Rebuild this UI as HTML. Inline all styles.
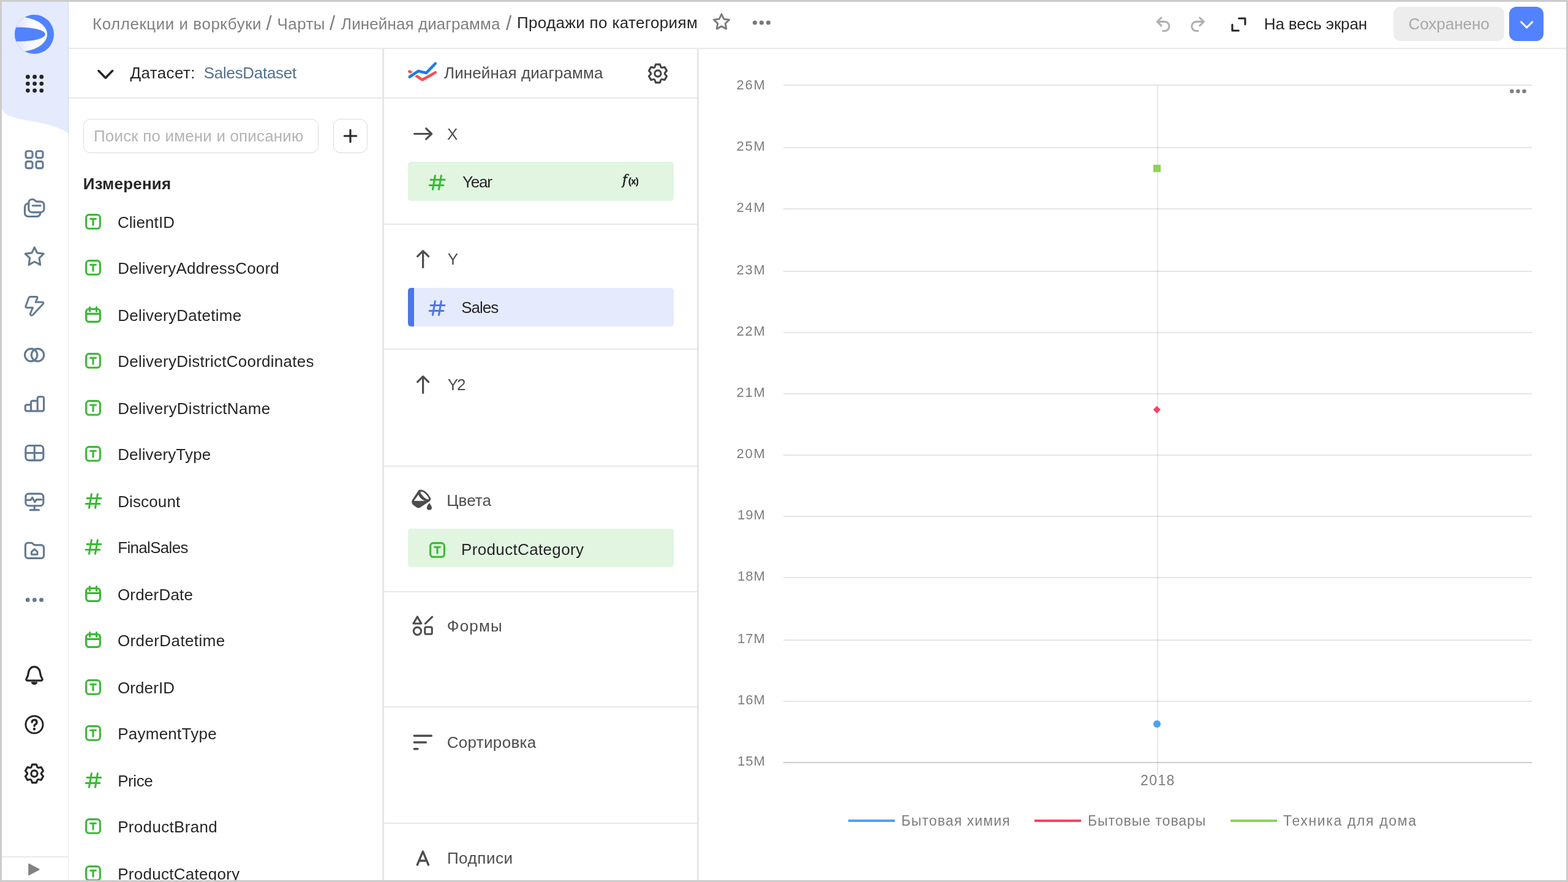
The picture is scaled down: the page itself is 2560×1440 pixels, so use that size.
<!DOCTYPE html>
<html lang="ru">
<head>
<meta charset="utf-8">
<title>Продажи по категориям</title>
<style>
*{box-sizing:border-box;margin:0;padding:0}
html,body{width:2560px;height:1440px;overflow:hidden;background:#fff}
#root{position:absolute;left:0;top:0;width:2560px;height:1440px;overflow:hidden;background:#fff}
body{position:relative;font-family:"Liberation Sans",sans-serif;font-size:26px;color:#262626}
.a{position:absolute}
.t{position:absolute;white-space:nowrap;line-height:36px;height:36px}
.hl{position:absolute;height:2px;background:#e9e9e9}
.vl{position:absolute;width:2px;background:#e9e9e9}
svg{position:absolute;overflow:visible}
.frame{position:absolute;left:0;top:0;width:2560px;height:1440px;border:3px solid #ccc;pointer-events:none;z-index:50}
.sec{color:#4d4d4d}
.g{color:#808080}
.ch{color:#7d7d7d;font-size:22px}
</style>
</head>
<body>
<div id="root">
<svg style="left:0;top:0" width="112" height="230" viewBox="0 0 112 230"><path d="M3 3H112V218.5C100 210 88 205.5 70 201.5C50 197.5 35 195 22 191.5C10 188 3 183 3 173Z" fill="#e5ebfd"/></svg>
<div class="vl" style="left:110.5px;top:3px;height:1434px;background:rgba(0,0,0,0.09);width:1.5px;"></div>
<div class="hl" style="left:3px;top:1398px;width:108px;background:#e9e9e9;height:2px;"></div>
<div class="hl" style="left:112px;top:78px;width:2445px;background:#e8e8e8;height:2px;"></div>
<div class="vl" style="left:624px;top:80px;height:1357px;background:#e6e6e6;width:3px;"></div>
<div class="vl" style="left:1137.75px;top:80px;height:1357px;background:#e6e6e6;width:3px;"></div>
<div class="hl" style="left:112px;top:159px;width:512px;background:#e8e8e8;height:2px;"></div>
<div class="hl" style="left:627px;top:159px;width:511px;background:#e8e8e8;height:2px;"></div>
<div class="hl" style="left:627px;top:365px;width:511px;background:#e8e8e8;height:2px;"></div>
<div class="hl" style="left:627px;top:569px;width:511px;background:#e8e8e8;height:2px;"></div>
<div class="hl" style="left:627px;top:760px;width:511px;background:#e8e8e8;height:2px;"></div>
<div class="hl" style="left:627px;top:965px;width:511px;background:#e8e8e8;height:2px;"></div>
<div class="hl" style="left:627px;top:1153px;width:511px;background:#e8e8e8;height:2px;"></div>
<div class="hl" style="left:627px;top:1343px;width:511px;background:#e8e8e8;height:2px;"></div>
<div class="t g" style="left:151px;top:20.75px;letter-spacing:0.52px;">Коллекции и воркбуки</div>
<div class="t g" style="left:434.5px;top:20.3px;font-size:33px;">/</div>
<div class="t g" style="left:452.5px;top:20.75px;letter-spacing:0.42px;">Чарты</div>
<div class="t g" style="left:538px;top:20.3px;font-size:33px;">/</div>
<div class="t g" style="left:557px;top:20.75px;letter-spacing:0.1px;">Линейная диаграмма</div>
<div class="t g" style="left:826px;top:20.3px;font-size:33px;">/</div>
<div class="t " style="left:844px;top:18.6px;letter-spacing:0.35px;">Продажи по категориям</div>
<div class="t " style="left:2063.75px;top:21px;letter-spacing:-0.15px;">На весь экран</div>
<div class="a" style="left:2275.4px;top:11.25px;width:180.35px;height:55.75px;border-radius:12px;background:#ededed"></div>
<div class="t " style="left:2299.5px;top:21px;letter-spacing:-0.04px;color:#a8a8a8;">Сохранено</div>
<div class="a" style="left:2464.25px;top:11.25px;width:55.75px;height:55.75px;border-radius:12px;background:#5282ff"></div>
<svg style="left:2480px;top:32px" width="26" height="18" viewBox="0 0 26 18" fill="none"><path d="M3.6 3.9L12.65 13L21.7 3.9" stroke="#fff" stroke-width="3.1" stroke-linecap="round" stroke-linejoin="round"/></svg>
<svg style="left:1161.5px;top:20px;" width="32" height="32" viewBox="0 0 16 16" fill="none"><path d="M8 1.55L9.93 5.55L14.3 6.15L11.12 9.2L11.9 13.55L8 11.45L4.1 13.55L4.88 9.2L1.7 6.15L6.07 5.55Z" stroke="#7a7a7a" stroke-width="1.45" stroke-linejoin="round"/></svg>
<svg style="left:1228px;top:32px" width="32" height="10" viewBox="0 0 32 10"><circle cx="4.4" cy="5" r="3.6" fill="#7a7a7a"/><circle cx="15.4" cy="5" r="3.6" fill="#7a7a7a"/><circle cx="26.4" cy="5" r="3.6" fill="#7a7a7a"/></svg>
<svg style="left:1883px;top:23.5px" width="32" height="32" viewBox="0 0 32 32" fill="none"><path d="M12.9 5L6.3 11.4L12.9 17.8M6.6 11.4H18.5A7.55 7.55 0 0 1 18.5 26.5H15.8" stroke="#b0b0b0" stroke-width="3.1" stroke-linecap="round" stroke-linejoin="round"/></svg>
<svg style="left:1939px;top:23.5px" width="32" height="32" viewBox="0 0 32 32" fill="none"><path d="M19.8 5L26.4 11.4L19.8 17.8M26.1 11.4H14.2A7.55 7.55 0 0 0 14.2 26.5H16.9" stroke="#b0b0b0" stroke-width="3.1" stroke-linecap="round" stroke-linejoin="round"/></svg>
<svg style="left:2008px;top:26px" width="28" height="28" viewBox="0 0 28 28" fill="none"><path d="M14.75 4H24.9V13.75M3.9 14.25V24H14.25" stroke="#262626" stroke-width="3.1" stroke-linecap="round" stroke-linejoin="round"/></svg>
<svg style="left:24px;top:24px" width="64" height="64" viewBox="0 0 64 64">
<defs><linearGradient id="lg" gradientUnits="userSpaceOnUse" x1="0" y1="0" x2="34" y2="0"><stop offset="0" stop-color="#dbe4ff"/><stop offset="1" stop-color="#ffffff"/></linearGradient>
<clipPath id="cp"><circle cx="32" cy="32" r="32"/></clipPath></defs>
<circle cx="32" cy="32" r="32" fill="#5282ff"/>
<g clip-path="url(#cp)"><ellipse cx="6" cy="32" rx="47" ry="28.5" fill="url(#lg)"/><ellipse cx="8" cy="32" rx="42" ry="11.5" fill="#5282ff"/></g>
</svg>
<svg style="left:41.7px;top:121.9px" width="29.2" height="29.2" viewBox="0 0 29.2 29.2"><circle cx="3.4" cy="3.4" r="3.4" fill="#262626"/><circle cx="3.4" cy="14.6" r="3.4" fill="#262626"/><circle cx="3.4" cy="25.8" r="3.4" fill="#262626"/><circle cx="14.6" cy="3.4" r="3.4" fill="#262626"/><circle cx="14.6" cy="14.6" r="3.4" fill="#262626"/><circle cx="14.6" cy="25.8" r="3.4" fill="#262626"/><circle cx="25.8" cy="3.4" r="3.4" fill="#262626"/><circle cx="25.8" cy="14.6" r="3.4" fill="#262626"/><circle cx="25.8" cy="25.8" r="3.4" fill="#262626"/></svg>
<svg style="left:38px;top:243px;" width="36" height="36" viewBox="0 0 36 36" fill="none"><g stroke="#637a93" stroke-width="3.15" stroke-linecap="round" stroke-linejoin="round"><rect x="4.1" y="3.7" width="10.9" height="11" rx="2.8"/><rect x="21" y="3.7" width="11" height="11" rx="2.8"/><rect x="4.1" y="20.6" width="10.9" height="11" rx="2.8"/><rect x="21" y="20.6" width="11" height="11" rx="2.8"/></g></svg>
<svg style="left:38px;top:322px;" width="36" height="36" viewBox="0 0 36 36" fill="none"><g stroke="#637a93" stroke-width="3.15" stroke-linecap="round" stroke-linejoin="round"><path d="M8.8 9A5.5 5.5 0 0 1 14.3 3.5H15.6C17.6 3.5 18.5 4.5 19.5 5.6C20.4 6.6 21.2 7.1 22.6 7.1H28.4A5.5 5.5 0 0 1 33.9 12.6V19.1A5.5 5.5 0 0 1 28.4 24.6H14.3A5.5 5.5 0 0 1 8.8 19.1Z"/><path d="M15.3 13.7H28.2"/><path d="M8.4 10.4H8A5.5 5.5 0 0 0 2.5 15.9V26A5.5 5.5 0 0 0 8 31.5H22.3A5.5 5.5 0 0 0 27.8 26V25.2"/></g></svg>
<svg style="left:38px;top:401px;" width="36" height="36" viewBox="0 0 36 36" fill="none"><g stroke="#637a93" stroke-width="3.1" stroke-linecap="round" stroke-linejoin="round"><path d="M18.3 2.8L22.7 11.9L33.3 13.3L26.1 20.3L27.7 31.4L18.3 26.25L9.1 31.4L10.65 20.3L3.3 13.3L13.9 11.9Z"/></g></svg>
<svg style="left:38px;top:481px;" width="36" height="36" viewBox="0 0 36 36" fill="none"><g stroke="#637a93" stroke-width="3" stroke-linecap="round" stroke-linejoin="round"><path d="M11.8 3.5H21.3Q23.7 3.5 22.9 5.8L20.2 12.25H30.4Q33.9 12.25 32.3 15.3L15.6 33Q13.8 34.7 12.2 33.4Q10.9 32.4 11.6 30.6L15.5 21.3H6.2Q3.1 21.3 4.1 18.5L8.9 5.6Q9.7 3.5 11.8 3.5Z"/></g></svg>
<svg style="left:38px;top:561px;" width="36" height="36" viewBox="0 0 36 36" fill="none"><g stroke="#637a93" stroke-width="3.15" stroke-linecap="round" stroke-linejoin="round"><circle cx="12.7" cy="18.6" r="10.2"/><circle cx="23.5" cy="18.6" r="10.2"/></g></svg>
<svg style="left:38px;top:641px;" width="36" height="36" viewBox="0 0 36 36" fill="none"><g stroke="#637a93" stroke-width="3.15" stroke-linecap="round" stroke-linejoin="round"><path d="M3.2 22.4A2.6 2.6 0 0 1 5.8 19.8H12.6V30.1H5.8A2.6 2.6 0 0 1 3.2 27.5ZM12.6 16A2.6 2.6 0 0 1 15.2 13.4H23.2V30.1H12.6ZM23.2 9.3A2.6 2.6 0 0 1 25.8 6.7H31A2.6 2.6 0 0 1 33.6 9.3V27.5A2.6 2.6 0 0 1 31 30.1H23.2Z"/></g></svg>
<svg style="left:38px;top:721px;" width="36" height="36" viewBox="0 0 36 36" fill="none"><g stroke="#637a93" stroke-width="3.15" stroke-linecap="round" stroke-linejoin="round"><rect x="3.9" y="6.5" width="28.9" height="24.1" rx="5.4"/><path d="M18.3 6.5V30.6M3.9 18.5H32.8"/></g></svg>
<svg style="left:38px;top:801px;" width="36" height="36" viewBox="0 0 36 36" fill="none"><g stroke="#637a93" stroke-width="3.15" stroke-linecap="round" stroke-linejoin="round"><rect x="3.9" y="5.1" width="28.9" height="19.6" rx="5"/><path d="M18.3 24.7V31.4M11.2 31.6H25.5M6.3 15.3H12.2L14.7 11.2L18.9 18.6L21.6 14.6H29.5"/></g></svg>
<svg style="left:38px;top:881px;" width="36" height="36" viewBox="0 0 36 36" fill="none"><g stroke="#637a93" stroke-width="3.15" stroke-linecap="round" stroke-linejoin="round"><path d="M3.4 9.6A4.4 4.4 0 0 1 7.8 5.2H12.4C14.2 5.2 15 6 15.9 7.1C16.8 8.2 17.6 8.9 19.2 8.9H29.2A4.4 4.4 0 0 1 33.6 13.3V26A4.4 4.4 0 0 1 29.2 30.4H7.8A4.4 4.4 0 0 1 3.4 26Z"/><path d="M13.5 24.2V19.8L18.3 15.6L23.1 19.8V24.2Z" stroke-width="2.9"/></g></svg>
<svg style="left:38px;top:970px" width="36" height="20" viewBox="0 0 36 20"><circle cx="7.2" cy="9.4" r="3.4" fill="#637a93"/><circle cx="18.4" cy="9.4" r="3.4" fill="#637a93"/><circle cx="29.6" cy="9.4" r="3.4" fill="#637a93"/></svg>
<svg style="left:38px;top:1085px;" width="36" height="36" viewBox="0 0 16 16" fill="none"><g stroke="#262626" stroke-width="1.45" stroke-linecap="round" stroke-linejoin="round"><path d="M3 11.6C2.3 11.6 1.9 10.85 2.3 10.25C3.3 8.8 3.6 7.6 3.8 5.8C4.05 3.4 5.7 1.65 8 1.65C10.3 1.65 11.95 3.4 12.2 5.8C12.4 7.6 12.7 8.8 13.7 10.25C14.1 10.85 13.7 11.6 13 11.6Z"/><path d="M6.1 12.9A2 2 0 0 0 9.9 12.9Z" fill="#262626" stroke-width="0.8"/></g></svg>
<svg style="left:38px;top:1165px;" width="36" height="36" viewBox="0 0 16 16" fill="none"><g stroke="#262626" stroke-width="1.3" stroke-linecap="round" stroke-linejoin="round"><circle cx="8" cy="8" r="6.25"/><path d="M6.3 6.3A1.75 1.75 0 1 1 8.6 8C8.2 8.2 8 8.5 8 9" stroke-width="1.5"/><circle cx="8" cy="11.2" r="0.6" fill="#262626" stroke-width="0.8"/></g></svg>
<svg style="left:36.1px;top:1243.4px" width="40" height="40" viewBox="0 0 40 40" fill="none"><path d="M16.62 5.13L23.38 5.13L24.52 8.24Q25.05 11.25 27.93 10.21L31.19 9.64L34.57 15.49L32.44 18.03Q30.10 20.00 32.44 21.97L34.57 24.51L31.19 30.36L27.93 29.79Q25.05 28.75 24.52 31.76L23.38 34.87L16.62 34.87L15.48 31.76Q14.95 28.75 12.07 29.79L8.81 30.36L5.43 24.51L7.56 21.97Q9.90 20.00 7.56 18.03L5.43 15.49L8.81 9.64L12.07 10.21Q14.95 11.25 15.48 8.24Z" stroke="#262626" stroke-width="3.1" stroke-linejoin="round"/><circle cx="20" cy="20" r="5.1" stroke="#262626" stroke-width="3.1"/></svg>
<svg style="left:46px;top:1409px" width="20" height="22" viewBox="0 0 20 22"><path d="M1 1.5L18 10.5L1 19.5Z" fill="#828282" stroke="#828282" stroke-width="1.5" stroke-linejoin="round"/></svg>
<svg style="left:156px;top:108px" width="32" height="26" viewBox="0 0 32 26" fill="none"><path d="M5 7.6L16.4 19.2L27.6 7.6" stroke="#262626" stroke-width="3.6" stroke-linecap="round" stroke-linejoin="round"/></svg>
<div class="t " style="left:212.5px;top:100.65px;letter-spacing:0.38px;">Датасет:</div>
<div class="t " style="left:332.75px;top:100.65px;letter-spacing:-0.29px;color:#54708f;">SalesDataset</div>
<div class="a" style="left:136.25px;top:194.25px;width:383.75px;height:55.5px;border:1.5px solid #dadada;border-radius:12px"></div>
<div class="t " style="left:153px;top:203.8px;letter-spacing:0.16px;color:#b5b5b5;">Поиск по имени и описанию</div>
<div class="a" style="left:544.25px;top:194.25px;width:55.75px;height:55.5px;border:1.5px solid #dadada;border-radius:12px"></div>
<svg style="left:558px;top:208px" width="28" height="28" viewBox="0 0 28 28" fill="none"><path d="M14 4.3V23.7M4.3 14H23.7" stroke="#262626" stroke-width="3.1" stroke-linecap="round"/></svg>
<div class="t " style="left:135.75px;top:282px;letter-spacing:0.2px;font-weight:700;">Измерения</div>
<svg style="left:139px;top:349px" width="26" height="26" viewBox="0 0 26 26" fill="none"><g stroke="#3ab935" stroke-linecap="round" stroke-linejoin="round"><rect x="1.6" y="1.6" width="22.8" height="22.6" rx="4.8" stroke-width="3.1"/><path d="M8.6 8.2H17.4M13 8.2V18.1" stroke-width="3.1"/></g></svg>
<div class="t " style="left:191.9px;top:345px;letter-spacing:0.09px;">ClientID</div>
<svg style="left:139px;top:424.4px" width="26" height="26" viewBox="0 0 26 26" fill="none"><g stroke="#3ab935" stroke-linecap="round" stroke-linejoin="round"><rect x="1.6" y="1.6" width="22.8" height="22.6" rx="4.8" stroke-width="3.1"/><path d="M8.6 8.2H17.4M13 8.2V18.1" stroke-width="3.1"/></g></svg>
<div class="t " style="left:192.2px;top:420.4px;letter-spacing:0.18px;">DeliveryAddressCoord</div>
<svg style="left:139px;top:499.5px" width="26" height="28" viewBox="0 0 26 28" fill="none"><g stroke="#3ab935" stroke-linecap="round" stroke-linejoin="round" stroke-width="3.2"><rect x="1.6" y="4.5" width="22.8" height="20.9" rx="4.8"/><path d="M1.6 12.4H24.4M7.5 1.6V8.2M18.5 1.6V8.2"/></g></svg>
<div class="t " style="left:192.2px;top:497px;letter-spacing:0.27px;">DeliveryDatetime</div>
<svg style="left:139px;top:576.4px" width="26" height="26" viewBox="0 0 26 26" fill="none"><g stroke="#3ab935" stroke-linecap="round" stroke-linejoin="round"><rect x="1.6" y="1.6" width="22.8" height="22.6" rx="4.8" stroke-width="3.1"/><path d="M8.6 8.2H17.4M13 8.2V18.1" stroke-width="3.1"/></g></svg>
<div class="t " style="left:192.2px;top:572.4px;letter-spacing:0.26px;">DeliveryDistrictCoordinates</div>
<svg style="left:139px;top:653px" width="26" height="26" viewBox="0 0 26 26" fill="none"><g stroke="#3ab935" stroke-linecap="round" stroke-linejoin="round"><rect x="1.6" y="1.6" width="22.8" height="22.6" rx="4.8" stroke-width="3.1"/><path d="M8.6 8.2H17.4M13 8.2V18.1" stroke-width="3.1"/></g></svg>
<div class="t " style="left:192.2px;top:649px;letter-spacing:0.33px;">DeliveryDistrictName</div>
<svg style="left:139px;top:728.4px" width="26" height="26" viewBox="0 0 26 26" fill="none"><g stroke="#3ab935" stroke-linecap="round" stroke-linejoin="round"><rect x="1.6" y="1.6" width="22.8" height="22.6" rx="4.8" stroke-width="3.1"/><path d="M8.6 8.2H17.4M13 8.2V18.1" stroke-width="3.1"/></g></svg>
<div class="t " style="left:192.2px;top:724.4px;letter-spacing:0.16px;">DeliveryType</div>
<svg style="left:138.5px;top:805px" width="28" height="26" viewBox="0 0 28 26" fill="none"><g stroke="#3ab935" stroke-linecap="round" stroke-linejoin="round" stroke-width="3.1"><path d="M10.4 1.7L6.5 24.3M20.4 1.7L16.5 24.3M3.1 8.5H25.9M1.2 17.55H23.9"/></g></svg>
<div class="t " style="left:192.2px;top:801px;letter-spacing:0.12px;">Discount</div>
<svg style="left:138.5px;top:880.4px" width="28" height="26" viewBox="0 0 28 26" fill="none"><g stroke="#3ab935" stroke-linecap="round" stroke-linejoin="round" stroke-width="3.1"><path d="M10.4 1.7L6.5 24.3M20.4 1.7L16.5 24.3M3.1 8.5H25.9M1.2 17.55H23.9"/></g></svg>
<div class="t " style="left:192.2px;top:876.4px;letter-spacing:-0.68px;">FinalSales</div>
<svg style="left:139px;top:955.5px" width="26" height="28" viewBox="0 0 26 28" fill="none"><g stroke="#3ab935" stroke-linecap="round" stroke-linejoin="round" stroke-width="3.2"><rect x="1.6" y="4.5" width="22.8" height="20.9" rx="4.8"/><path d="M1.6 12.4H24.4M7.5 1.6V8.2M18.5 1.6V8.2"/></g></svg>
<div class="t " style="left:191.9px;top:953px;letter-spacing:0.21px;">OrderDate</div>
<svg style="left:139px;top:1030.9px" width="26" height="28" viewBox="0 0 26 28" fill="none"><g stroke="#3ab935" stroke-linecap="round" stroke-linejoin="round" stroke-width="3.2"><rect x="1.6" y="4.5" width="22.8" height="20.9" rx="4.8"/><path d="M1.6 12.4H24.4M7.5 1.6V8.2M18.5 1.6V8.2"/></g></svg>
<div class="t " style="left:191.9px;top:1028.4px;letter-spacing:0.4px;">OrderDatetime</div>
<svg style="left:139px;top:1109px" width="26" height="26" viewBox="0 0 26 26" fill="none"><g stroke="#3ab935" stroke-linecap="round" stroke-linejoin="round"><rect x="1.6" y="1.6" width="22.8" height="22.6" rx="4.8" stroke-width="3.1"/><path d="M8.6 8.2H17.4M13 8.2V18.1" stroke-width="3.1"/></g></svg>
<div class="t " style="left:191.9px;top:1105px;letter-spacing:0.11px;">OrderID</div>
<svg style="left:139px;top:1184.4px" width="26" height="26" viewBox="0 0 26 26" fill="none"><g stroke="#3ab935" stroke-linecap="round" stroke-linejoin="round"><rect x="1.6" y="1.6" width="22.8" height="22.6" rx="4.8" stroke-width="3.1"/><path d="M8.6 8.2H17.4M13 8.2V18.1" stroke-width="3.1"/></g></svg>
<div class="t " style="left:192.2px;top:1180.4px;letter-spacing:0.25px;">PaymentType</div>
<svg style="left:138.5px;top:1261px" width="28" height="26" viewBox="0 0 28 26" fill="none"><g stroke="#3ab935" stroke-linecap="round" stroke-linejoin="round" stroke-width="3.1"><path d="M10.4 1.7L6.5 24.3M20.4 1.7L16.5 24.3M3.1 8.5H25.9M1.2 17.55H23.9"/></g></svg>
<div class="t " style="left:192.2px;top:1257px;letter-spacing:-0.43px;">Price</div>
<svg style="left:139px;top:1336.4px" width="26" height="26" viewBox="0 0 26 26" fill="none"><g stroke="#3ab935" stroke-linecap="round" stroke-linejoin="round"><rect x="1.6" y="1.6" width="22.8" height="22.6" rx="4.8" stroke-width="3.1"/><path d="M8.6 8.2H17.4M13 8.2V18.1" stroke-width="3.1"/></g></svg>
<div class="t " style="left:192.2px;top:1332.4px;letter-spacing:0.32px;">ProductBrand</div>
<svg style="left:139px;top:1413px" width="26" height="26" viewBox="0 0 26 26" fill="none"><g stroke="#3ab935" stroke-linecap="round" stroke-linejoin="round"><rect x="1.6" y="1.6" width="22.8" height="22.6" rx="4.8" stroke-width="3.1"/><path d="M8.6 8.2H17.4M13 8.2V18.1" stroke-width="3.1"/></g></svg>
<div class="t " style="left:192.2px;top:1409px;letter-spacing:0.28px;">ProductCategory</div>
<svg style="left:666px;top:100px" width="48" height="36" viewBox="0 0 48 36" fill="none" stroke-linecap="round" stroke-linejoin="round"><path d="M2.4 16.6L23.7 30.3L44.8 18.4" stroke="#ff4a4d" stroke-width="4.5"/><path d="M2.75 25.5L16.8 16.1L29.9 19.1L44.8 3.75" stroke="#fff" stroke-width="8"/><path d="M2.75 25.5L16.8 16.1L29.9 19.1L44.8 3.75" stroke="#1a7ee0" stroke-width="4.6"/></svg>
<div class="t sec" style="left:725px;top:101px;letter-spacing:0.1px;">Линейная диаграмма</div>
<svg style="left:1054.1px;top:100.3px" width="40" height="40" viewBox="0 0 40 40" fill="none"><path d="M16.62 5.13L23.38 5.13L24.52 8.24Q25.05 11.25 27.93 10.21L31.19 9.64L34.57 15.49L32.44 18.03Q30.10 20.00 32.44 21.97L34.57 24.51L31.19 30.36L27.93 29.79Q25.05 28.75 24.52 31.76L23.38 34.87L16.62 34.87L15.48 31.76Q14.95 28.75 12.07 29.79L8.81 30.36L5.43 24.51L7.56 21.97Q9.90 20.00 7.56 18.03L5.43 15.49L8.81 9.64L12.07 10.21Q14.95 11.25 15.48 8.24Z" stroke="#444" stroke-width="3.1" stroke-linejoin="round"/><circle cx="20" cy="20" r="5.1" stroke="#444" stroke-width="3.1"/></svg>
<svg style="left:673px;top:206px" width="36" height="26" viewBox="0 0 36 26" fill="none"><path d="M3.6 12.5H31M22.7 3.8L31.7 12.5L22.7 21.2" stroke="#4d4d4d" stroke-width="3.2" stroke-linecap="round" stroke-linejoin="round"/></svg>
<div class="t sec" style="left:730px;top:200.75px;">X</div>
<svg style="left:678px;top:407.2px" width="26" height="32" viewBox="0 0 26 32" fill="none"><path d="M12.6 29.4V3.2M3.6 11.6L12.6 2.6L21.6 11.6" stroke="#4d4d4d" stroke-width="3.2" stroke-linecap="round" stroke-linejoin="round"/></svg>
<div class="t sec" style="left:730.75px;top:404.9px;">Y</div>
<svg style="left:678px;top:612px" width="26" height="32" viewBox="0 0 26 32" fill="none"><path d="M12.6 29.4V3.2M3.6 11.6L12.6 2.6L21.6 11.6" stroke="#4d4d4d" stroke-width="3.2" stroke-linecap="round" stroke-linejoin="round"/></svg>
<div class="t sec" style="left:730.75px;top:609.75px;letter-spacing:-2.09px;">Y2</div>
<svg style="left:672px;top:798px" width="36" height="36" viewBox="0 0 36 36" fill="none">
<path d="M12.4 2.4L1.7 18.6Q0.2 21.6 1.9 24.4Q2.6 25.5 3.9 26.4L8.6 29.7Q11.2 31.3 14 29.7L29.4 19.3Q30.6 18.4 30.4 15.2Z" fill="#4d4d4d" stroke="#4d4d4d" stroke-width="1.6" stroke-linejoin="round"/>
<ellipse cx="21.1" cy="10.75" rx="11.7" ry="5.7" transform="rotate(44 21.1 10.75)" fill="#4d4d4d"/>
<ellipse cx="21.3" cy="10.9" rx="8.9" ry="2.8" transform="rotate(44 21.3 10.9)" fill="#fff"/>
<path d="M11.2 9.4Q12.6 15.6 21.8 19.8H3.8Z" fill="#fff"/>
<path d="M28.9 23.2C28.9 23.2 24.8 28.3 24.8 30.7A4.1 4.1 0 0 0 33 30.7C33 28.3 28.9 23.2 28.9 23.2Z" fill="#4d4d4d"/>
</svg>
<div class="t sec" style="left:729.25px;top:798.6px;letter-spacing:0.07px;">Цвета</div>
<svg style="left:672px;top:1003px" width="36" height="36" viewBox="0 0 36 36" fill="none"><g stroke="#4d4d4d" stroke-width="3.1" stroke-linecap="round" stroke-linejoin="round"><path d="M9.3 3.9L15.8 15H2.9Z"/><path d="M22.4 15.1L33.6 4.2"/><circle cx="9.45" cy="27.3" r="6.2"/><rect x="21.75" y="20.75" width="11.55" height="11.55" rx="2.4"/></g></svg>
<div class="t sec" style="left:729.75px;top:1003.9px;letter-spacing:1.17px;">Формы</div>
<svg style="left:672px;top:1198px" width="38" height="30" viewBox="0 0 38 30" fill="none"><path d="M4.2 3.3H32.4M4.2 14H23.4M4.2 24.8H10" stroke="#4d4d4d" stroke-width="3.4" stroke-linecap="round"/></svg>
<div class="t sec" style="left:729.75px;top:1194.1px;letter-spacing:0.31px;">Сортировка</div>
<svg style="left:678px;top:1386px" width="26" height="30" viewBox="0 0 26 30" fill="none"><path d="M3.3 26L12.4 4.2L21.5 26M6.3 19.2H18.5" stroke="#4d4d4d" stroke-width="3.4" stroke-linecap="round" stroke-linejoin="round"/></svg>
<div class="t sec" style="left:729.9px;top:1382.9px;letter-spacing:0.54px;">Подписи</div>
<div class="a" style="left:666.25px;top:264.25px;width:433.4px;height:63.75px;border-radius:5px;background:#e1f5e1"></div>
<svg style="left:700.25px;top:285.25px" width="28" height="26" viewBox="0 0 28 26" fill="none"><g stroke="#3ab935" stroke-linecap="round" stroke-linejoin="round" stroke-width="3.1"><path d="M10.4 1.7L6.5 24.3M20.4 1.7L16.5 24.3M3.1 8.5H25.9M1.2 17.55H23.9"/></g></svg>
<div class="t " style="left:755px;top:278.5px;letter-spacing:-1.21px;">Year</div>
<div class="t" style="left:1016px;top:275.5px;color:#1f1f1f;font-family:'DejaVu Serif','Liberation Serif',serif;font-style:italic;font-weight:400;font-size:21.5px;-webkit-text-stroke:0.5px #1f1f1f">f</div>
<div class="t" style="left:1026px;top:278px;color:#1f1f1f;font-weight:700;font-size:14px;letter-spacing:-0.2px;-webkit-text-stroke:0.35px #1f1f1f">(x)</div>
<div class="a" style="left:666.25px;top:469.5px;width:433.4px;height:63.5px;border-radius:5px;background:#e5ebfd;overflow:hidden"><div style="width:9.25px;height:64px;background:#4d77e7"></div></div>
<svg style="left:700px;top:490px" width="28" height="26" viewBox="0 0 28 26" fill="none"><g stroke="#4d77e7" stroke-linecap="round" stroke-linejoin="round" stroke-width="3.1"><path d="M10.4 1.7L6.5 24.3M20.4 1.7L16.5 24.3M3.1 8.5H25.9M1.2 17.55H23.9"/></g></svg>
<div class="t " style="left:753.25px;top:483.6px;letter-spacing:-1.01px;">Sales</div>
<div class="a" style="left:666.25px;top:862.75px;width:433.4px;height:63.5px;border-radius:5px;background:#e1f5e1"></div>
<svg style="left:700.75px;top:884.9px" width="26" height="26" viewBox="0 0 26 26" fill="none"><g stroke="#3ab935" stroke-linecap="round" stroke-linejoin="round"><rect x="1.6" y="1.6" width="22.8" height="22.6" rx="4.8" stroke-width="3.1"/><path d="M8.6 8.2H17.4M13 8.2V18.1" stroke-width="3.1"/></g></svg>
<div class="t " style="left:753px;top:878.6px;letter-spacing:0.35px;">ProductCategory</div>
<div class="hl" style="left:1279px;top:138px;width:1222px;background:rgba(0,0,0,0.1);height:2px;"></div>
<div class="t ch" style="left:1202.6px;top:121px;letter-spacing:1.71px;">26M</div>
<div class="hl" style="left:1279px;top:240px;width:1222px;background:rgba(0,0,0,0.1);height:2px;"></div>
<div class="t ch" style="left:1202.6px;top:221px;letter-spacing:1.71px;">25M</div>
<div class="hl" style="left:1279px;top:340px;width:1222px;background:rgba(0,0,0,0.1);height:2px;"></div>
<div class="t ch" style="left:1202.6px;top:321px;letter-spacing:1.71px;">24M</div>
<div class="hl" style="left:1279px;top:442px;width:1222px;background:rgba(0,0,0,0.1);height:2px;"></div>
<div class="t ch" style="left:1202.6px;top:423px;letter-spacing:1.71px;">23M</div>
<div class="hl" style="left:1279px;top:542px;width:1222px;background:rgba(0,0,0,0.1);height:2px;"></div>
<div class="t ch" style="left:1202.6px;top:523px;letter-spacing:1.71px;">22M</div>
<div class="hl" style="left:1279px;top:642px;width:1222px;background:rgba(0,0,0,0.1);height:2px;"></div>
<div class="t ch" style="left:1202.6px;top:623px;letter-spacing:1.71px;">21M</div>
<div class="hl" style="left:1279px;top:742px;width:1222px;background:rgba(0,0,0,0.1);height:2px;"></div>
<div class="t ch" style="left:1202.6px;top:723px;letter-spacing:1.71px;">20M</div>
<div class="hl" style="left:1279px;top:842px;width:1222px;background:rgba(0,0,0,0.1);height:2px;"></div>
<div class="t ch" style="left:1204px;top:823px;letter-spacing:1.01px;">19M</div>
<div class="hl" style="left:1279px;top:942px;width:1222px;background:rgba(0,0,0,0.1);height:2px;"></div>
<div class="t ch" style="left:1204px;top:923px;letter-spacing:1.01px;">18M</div>
<div class="hl" style="left:1279px;top:1044px;width:1222px;background:rgba(0,0,0,0.1);height:2px;"></div>
<div class="t ch" style="left:1204px;top:1025px;letter-spacing:1.01px;">17M</div>
<div class="hl" style="left:1279px;top:1144px;width:1222px;background:rgba(0,0,0,0.1);height:2px;"></div>
<div class="t ch" style="left:1204px;top:1125px;letter-spacing:1.01px;">16M</div>
<div class="t ch" style="left:1204px;top:1225px;letter-spacing:1.01px;">15M</div>
<div class="hl" style="left:1279px;top:1244px;width:1222px;background:#cccccc;height:2px;"></div>
<div class="vl" style="left:1889px;top:140px;height:1124px;background:rgba(0,0,0,0.09);width:2px;"></div>
<div class="a" style="left:1883px;top:269.25px;width:12px;height:11.5px;background:#8ad554"></div>
<svg style="left:1882px;top:662px" width="14" height="14" viewBox="0 0 14 14"><path d="M6.8 0.7L12.8 6.8L6.8 12.9L0.8 6.8Z" fill="#ff3d64"/></svg>
<div class="a" style="left:1883px;top:1176px;width:12px;height:12px;border-radius:50%;background:#4da2f1"></div>
<div class="t ch" style="left:1862.1px;top:1256.4px;letter-spacing:1.38px;font-size:23px;">2018</div>
<div class="a" style="left:1385px;top:1338px;width:76px;height:4px;background:#4da2f1"></div>
<div class="t ch" style="left:1471.5px;top:1321.5px;letter-spacing:1.12px;font-size:23px;">Бытовая химия</div>
<div class="a" style="left:1689px;top:1338px;width:76px;height:4px;background:#ff3d64"></div>
<div class="t ch" style="left:1775.9px;top:1321.5px;letter-spacing:0.98px;font-size:23px;">Бытовые товары</div>
<div class="a" style="left:2008.75px;top:1338px;width:76px;height:4px;background:#8ad554"></div>
<div class="t ch" style="left:2095px;top:1321.5px;letter-spacing:1.64px;font-size:23px;">Техника для дома</div>
<svg style="left:2464px;top:144px" width="30" height="10" viewBox="0 0 30 10"><circle cx="4.3" cy="5" r="3.3" fill="#808080"/><circle cx="14.4" cy="5" r="3.3" fill="#808080"/><circle cx="24.5" cy="5" r="3.3" fill="#808080"/></svg>
<div class="frame"></div>
</div>
<script>(function(){var w=window.innerWidth||0;if(w>0&&Math.abs(w-2560)>2){document.documentElement.style.zoom=(w/2560);}})();</script>
</body>
</html>
